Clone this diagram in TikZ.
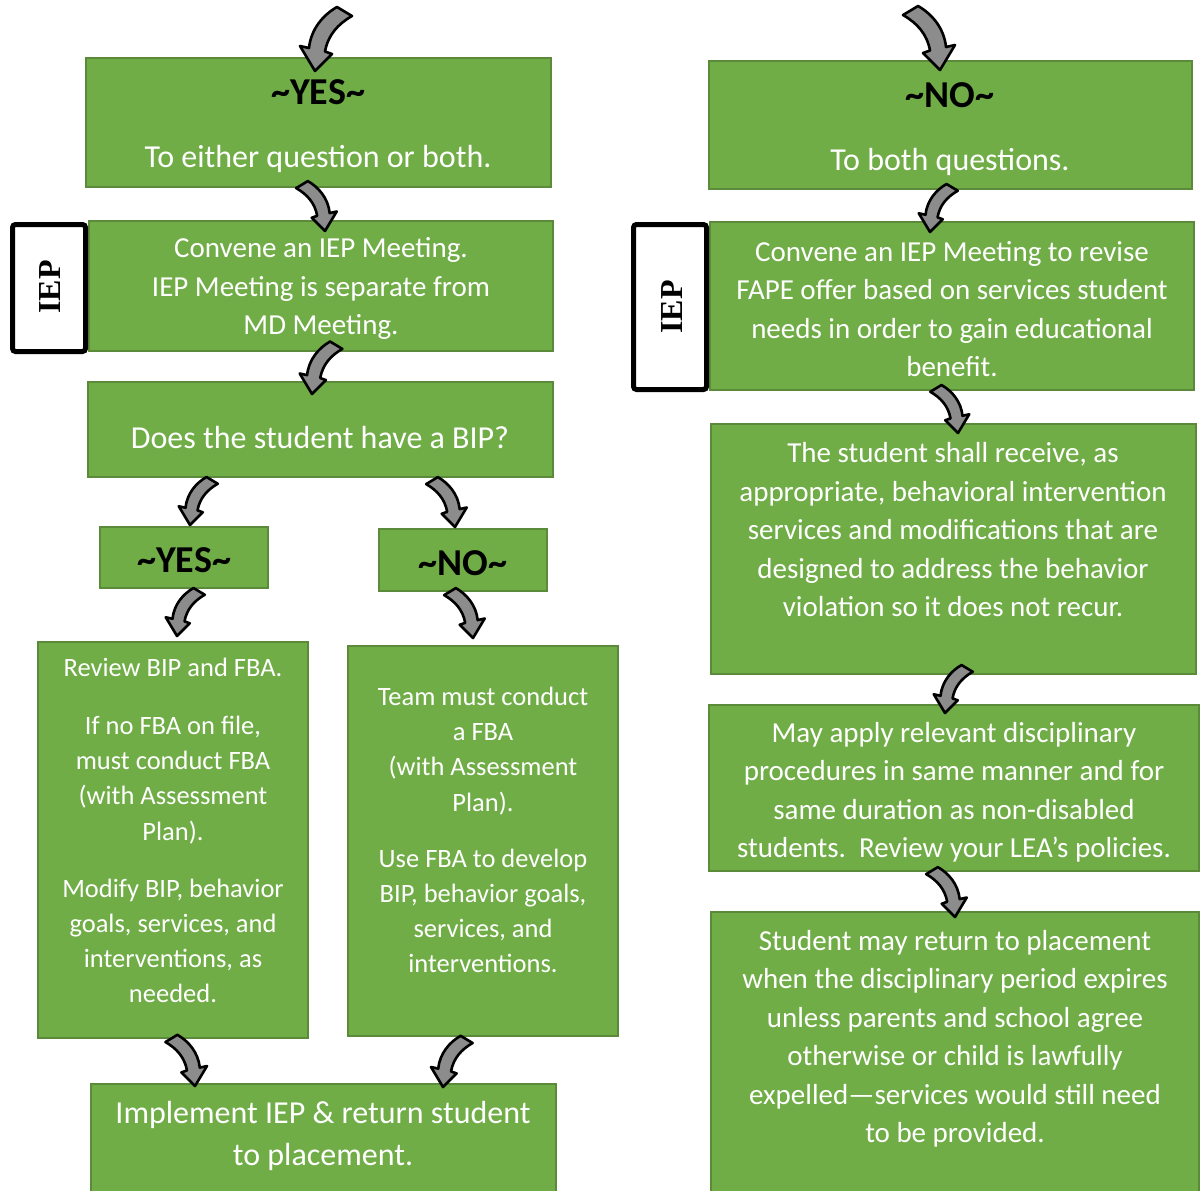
\documentclass[tikz,border=0pt]{standalone}
\usepackage{fontspec}
\setmainfont{Carlito}
\newfontfamily\iepfont{Liberation Serif}
\definecolor{boxgreen}{HTML}{70AD47}
\definecolor{boxedge}{HTML}{5A8A3A}
\definecolor{arrowgray}{HTML}{8C8C8C}
\newcommand\szA{\fontsize{16}{21}\selectfont}
\newcommand\szB{\fontsize{14.5}{19.25}\selectfont}
\newcommand\szC{\fontsize{13.25}{17.6}\selectfont}
\newcommand\szY{\fontsize{19}{21}\selectfont\bfseries}
\tikzset{
  box/.style={draw=boxedge, line width=1pt, fill=boxgreen, rectangle, inner sep=0pt},
  txt/.style={text=white, align=center, inner sep=0pt},
  yesno/.style={text=black, align=center, inner sep=0pt, font=\szY},
  iepbox/.style={draw=black, line width=2.5pt, fill=white, rounded corners=1.5pt, inner sep=0pt},
  ieptext/.style={rotate=90, inner sep=0pt, font=\iepfont\bfseries\fontsize{16}{18}\selectfont},
  arrowsty/.style={draw=black, line width=1.3pt, fill=arrowgray, line join=round},
  arrL/.pic={\path[arrowsty] (0,0) -- (-15,-25) -- (-6,-23) .. controls (-4,-42) and (8,-56) .. (22,-64) -- (37,-55) .. controls (23,-47) and (13,-36) .. (10,-19.5) -- (17,-17) -- cycle;},
  arrR/.pic={\path[arrowsty, xscale=-1] (0,0) -- (-15,-25) -- (-6,-23) .. controls (-4,-42) and (8,-56) .. (22,-64) -- (37,-55) .. controls (23,-47) and (13,-36) .. (10,-19.5) -- (17,-17) -- cycle;}
}
\begin{document}
\begin{tikzpicture}[x=0.5pt, y=-0.5pt]
\useasboundingbox (0,0) rectangle (1202,1190);
\clip (0,0) rectangle (1202,1190);
\fill[white] (0,0) rectangle (1202,1190);

% left column boxes
\node[box, minimum width=232.5pt, minimum height=64.5pt] (b1) at (318.5,122.5) {};
\node[box, minimum width=232pt, minimum height=65pt] (b2) at (321,286) {};
\node[box, minimum width=232.5pt, minimum height=47.5pt] (b3) at (320.5,429.5) {};
\node[box, minimum width=84pt, minimum height=30.5pt] (b4) at (184,557.5) {};
\node[box, minimum width=84pt, minimum height=31pt] (b5) at (463,560) {};
\node[box, minimum width=135pt, minimum height=198pt] (b6) at (173,840) {};
\node[box, minimum width=135pt, minimum height=195pt] (b7) at (483,841) {};
\node[box, minimum width=232.5pt, minimum height=57.5pt] (b8) at (323.5,1141.5) {};

% right column boxes
\node[box, minimum width=241.5pt, minimum height=64pt] (r1) at (950.5,125) {};
\node[box, minimum width=242pt, minimum height=84pt] (r2) at (952,306) {};
\node[box, minimum width=242.5pt, minimum height=125pt] (r3) at (953.5,549) {};
\node[box, minimum width=245pt, minimum height=83pt] (r4) at (954,788) {};
\node[box, minimum width=244pt, minimum height=143.5pt] (r5) at (955,1055.5) {};

% IEP labels
\node[iepbox, minimum width=36.5pt, minimum height=63.5pt] (iep1) at (49,288) {};
\node[ieptext] (iep1t) at (50,287) {IEP};
\node[iepbox, minimum width=36.5pt, minimum height=82.5pt] (iep2) at (670,307) {};
\node[ieptext] (iep2t) at (672,307) {IEP};

% texts
\node[yesno] (b1y) at (318,92) {\textasciitilde YES\textasciitilde};
\node[txt, font=\szA] (b1t) at (318,159) {To either question or both.};
\node[txt, font=\szB] (b2t) at (321,288.5) {Convene an IEP Meeting.\\IEP Meeting is separate from\\MD Meeting.};
\node[txt, font=\szA] (b3t) at (320,437) {Does the student have a BIP?};
\node[yesno] (b4t) at (184,560) {\textasciitilde YES\textasciitilde};
\node[yesno] (b5t) at (463,563) {\textasciitilde NO\textasciitilde};
\node[txt, font=\szC] (b6t) at (173,830.5) {Review BIP and FBA.\\[11.5pt]If no FBA on file,\\must conduct FBA\\(with Assessment\\Plan).\\[11pt]Modify BIP, behavior\\goals, services, and\\interventions, as\\needed.};
\node[txt, font=\szC] (b7t) at (483,830) {Team must conduct\\a FBA\\(with Assessment\\Plan).\\[10.5pt]Use FBA to develop\\BIP, behavior goals,\\services, and\\interventions.};
\node[txt, font=\szA] (b8t) at (323,1136) {Implement IEP \& return student\\to placement.};

\node[yesno] (r1y) at (950,95) {\textasciitilde NO\textasciitilde};
\node[txt, font=\szA] (r1t) at (950,162) {To both questions.};
\node[txt, font=\szB] (r2t) at (952,309) {Convene an IEP Meeting to revise\\FAPE offer based on services student\\needs in order to gain educational\\benefit.};
\node[txt, font=\szB] (r3t) at (953,530) {The student shall receive, as\\appropriate, behavioral intervention\\services and modifications that are\\designed to address the behavior\\violation so it does not recur.};
\node[txt, font=\szB] (r4t) at (954,792) {May apply relevant disciplinary\\procedures in same manner and for\\same duration as non-disabled\\students.\ \ Review your LEA’s policies.};
\node[txt, font=\szB] (r5t) at (955,1038.5) {Student may return to placement\\when the disciplinary period expires\\unless parents and school agree\\otherwise or child is lawfully\\expelled—services would still need\\to be provided.};

% arrows
\pic at (315,71) {arrL};
\pic[scale=0.78] at (325,231) {arrR};
\pic[scale=0.82] at (312,394) {arrL};
\pic[scale=0.75] at (190,525) {arrL};
\pic[scale=0.78] at (455,527) {arrR};
\pic[scale=0.75] at (177,636) {arrL};
\pic[scale=0.78] at (473,638) {arrR};
\pic[scale=0.8] at (195,1086) {arrR};
\pic[scale=0.8] at (443,1087) {arrL};
\pic at (940,70) {arrR};
\pic[scale=0.75] at (930,232) {arrL};
\pic[scale=0.75] at (958,433) {arrR};
\pic[scale=0.75] at (945,713) {arrL};
\pic[scale=0.78] at (955,917) {arrR};
\end{tikzpicture}
\end{document}
